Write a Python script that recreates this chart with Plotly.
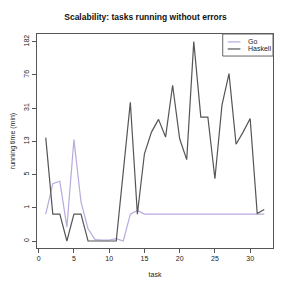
import numpy as np
import plotly.graph_objects as go

tasks = list(range(1, 33))
tick_vals = [0, 1, 5, 13, 31, 76, 182]
tick_labels = ["0", "1", "5", "13", "31", "76", "182"]
series_names = ["Go", "Haskell"]
series_colors = ["#B9A9DC", "#555555"]

go_minutes = [0.81, 3.9, 4.2, 0.42, 13.9, 1.7, 0.37, 0.04, 0.03, 0.03, 0.07, 0.0,
              0.81, 0.92] + [0.81] * 18
haskell_minutes = [15, 0.81, 0.81, 0, 0.81, 0.81, 0, 0, 0, 0, 0, 5.7,
                   39, 0.81, 10.0, 18.0, 24.9, 15.3, 62, 14.4, 8.6, 182,
                   26.1, 26.1, 4.5, 35, 80, 12.3, 18, 25.4, 0.83, 0.95]

positions = list(range(len(tick_vals)))


def scale(v):
    return np.interp(v, tick_vals, positions)


fig = go.Figure()
for name, vals, col in zip(series_names, [go_minutes, haskell_minutes], series_colors):
    fig.add_trace(go.Scatter(x=tasks, y=scale(vals), mode="lines", name=name,
                             line=dict(color=col, width=1.2), showlegend=False))

font = "Liberation Sans, Arial, sans-serif"
fig.update_layout(
    width=291, height=291,
    margin=dict(l=34, r=18, t=34, b=43),
    paper_bgcolor="white", plot_bgcolor="white",
    font=dict(family=font, size=7, color="#222"),
    title=dict(text="<b>Scalability: tasks running without errors</b>", x=0.5, xanchor="center",
               y=1 - 17 / 291, yanchor="middle", font=dict(size=8.5, family=font, color="#111")),
    showlegend=False,
)

# legend drawn manually (compact, like base R legend)
fig.add_shape(type="rect", xref="paper", yref="paper", x0=0.787, x1=1.0, y0=0.897, y1=1.0,
              line=dict(color="#666", width=1), fillcolor="white", layer="above")
for i, (name, col) in enumerate(zip(series_names, series_colors)):
    yy = 0.963 - i * 0.033
    fig.add_shape(type="line", xref="paper", yref="paper", x0=0.808, x1=0.862, y0=yy, y1=yy,
                  line=dict(color=col, width=1.2), layer="above")
    fig.add_annotation(xref="paper", yref="paper", x=0.885, y=yy, text=name, showarrow=False,
                       xanchor="left", yanchor="middle", font=dict(size=7, color="#222"))

fig.update_xaxes(range=[-0.24, 33.24], tickvals=[0, 5, 10, 15, 20, 25, 30],
                 showgrid=False, zeroline=False, showline=True, mirror=True,
                 linecolor="#555", linewidth=1, ticks="outside", ticklen=4,
                 tickcolor="#555", tickfont=dict(color="#222"),
                 title=dict(text="task", standoff=10, font=dict(size=7)))
fig.update_yaxes(range=[-0.21, 6.23], tickvals=positions, ticktext=tick_labels,
                 tickangle=-90, showgrid=False, zeroline=False, showline=True, mirror=True,
                 linecolor="#555", linewidth=1, ticks="outside", ticklen=4,
                 tickcolor="#555", tickfont=dict(color="#222"),
                 title=dict(text="running time (min)", standoff=6, font=dict(size=7)))

fig.write_html("out.html", config={"displayModeBar": False},
               post_script="document.body.style.margin='0px';")
